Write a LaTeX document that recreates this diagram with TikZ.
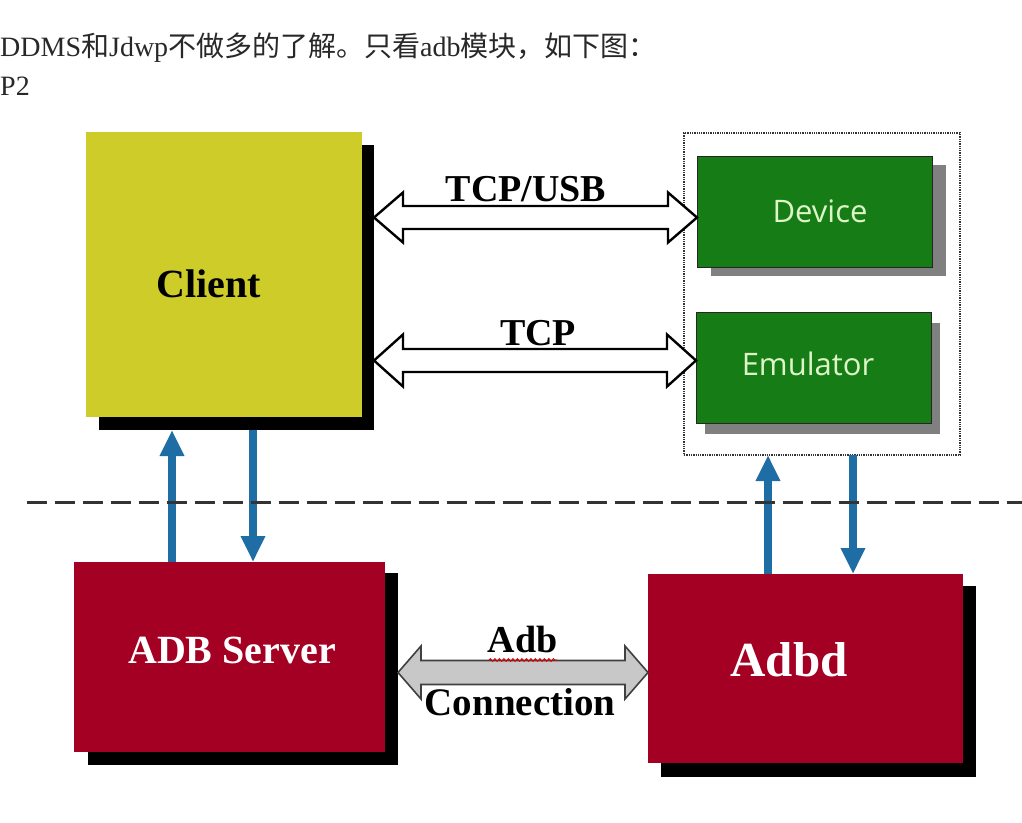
\documentclass[tikz,border=0pt]{standalone}
\usepackage{fontspec}
\setmainfont{Liberation Serif}
\newfontfamily\cjk{Noto Sans CJK SC}
\newfontfamily\osans{Open Sans}
\usetikzlibrary{calc,arrows.meta,decorations.pathmorphing}
\definecolor{cyel}{RGB}{205,204,40}
\definecolor{cgreen}{RGB}{22,125,22}
\definecolor{cred}{RGB}{163,0,36}
\definecolor{cblue}{RGB}{30,110,165}
\definecolor{cgtext}{RGB}{222,245,200}
\definecolor{cgshadow}{RGB}{128,128,128}
\definecolor{cconn}{RGB}{200,200,200}
\definecolor{chead}{RGB}{40,40,40}
\newcommand\fatarrow[6]{%
  \draw[#1] (#2) -- ++(#6,-#5) -- ++(0,{#5-#4}) -- ($(#3)+(-#6,-#4)$)
    -- ++(0,{-(#5-#4)}) -- (#3) -- ++(-#6,#5) -- ++(0,{-(#5-#4)})
    -- ($(#2)+(#6,#4)$) -- ++(0,{#5-#4}) -- cycle;}
\begin{document}
\begin{tikzpicture}[x=1pt,y=-1pt,
  box/.style={rectangle,inner sep=0pt,outer sep=0pt},
  shadowblk/.style={box,fill=black},
  shadowgray/.style={box,fill=cgshadow},
  greenbox/.style={box,fill=cgreen,draw=black!85,line width=1pt},
  redbox/.style={box,fill=cred},
  lbl/.style={inner sep=0pt,anchor=base,font=\bfseries\fontsize{#1}{#1}\selectfont},
  glbl/.style={inner sep=0pt,anchor=base,text=cgtext,font=\osans\fontsize{31}{31}\selectfont},
  hollow/.style={draw=black,fill=white,line width=2.4pt,line join=miter},
  greyarrow/.style={draw=black!75,fill=cconn,line width=1.6pt,line join=miter},
  bluearr/.style={draw=cblue,line width=8pt,-{Triangle[width=23pt,length=26pt]}},
  dashline/.style={draw=black!80,line width=3pt,dash pattern=on 20pt off 8pt},
  headtxt/.style={inner sep=0pt,anchor=base west,text=chead,font=\fontsize{28}{28}\selectfont}
]
\useasboundingbox (0,0) rectangle (1022,822);
\fill[white] (0,0) rectangle (1022,822);

% header text
\node[headtxt] (h1) at (0,56) {DDMS{\cjk 和}Jdwp{\cjk 不做多的了解。只看}adb{\cjk 模块，如下图：}};
\node[headtxt] (h2) at (0,95) {P2};

% client
\node[shadowblk,minimum width=275pt,minimum height=285pt] (clientsh) at (236.5,287.5) {};
\node[box,fill=cyel,minimum width=276pt,minimum height=285pt] (client) at (224,274.5) {};
\node[lbl=40] (clienttxt) at (209,297) {Client};

% device box group
\node[box,draw=black!80,line width=1.3pt,densely dotted,minimum width=276pt,minimum height=322pt] (grp) at (822,294) {};
\node[shadowgray,minimum width=235pt,minimum height=111pt] (devicesh) at (828.5,220.5) {};
\node[greenbox,minimum width=235pt,minimum height=111pt] (device) at (814.5,211.5) {};
\node[glbl] (devicetxt) at (820,222) {Device};
\node[shadowgray,minimum width=235pt,minimum height=111pt] (emush) at (822.5,378.5) {};
\node[greenbox,minimum width=235pt,minimum height=111pt] (emulator) at (813.5,367.5) {};
\node[glbl] (emutxt) at (808,375) {Emulator};

% ADB server
\node[shadowblk,minimum width=310pt,minimum height=192pt] (adbsh) at (243,669) {};
\node[redbox,minimum width=311pt,minimum height=190pt] (adbserver) at (229.5,657) {};
\node[lbl=40,text=white] (adbservertxt) at (232,663) {ADB Server};

% Adbd
\node[shadowblk,minimum width=315pt,minimum height=191pt] (adbdsh) at (818.5,681.5) {};
\node[redbox,minimum width=315pt,minimum height=189pt] (adbd) at (805.5,668.5) {};
\node[lbl=49,text=white] (adbdtxt) at (789,676) {Adbd};

% hollow double arrows
\coordinate (r1) at (0,217.5);
\coordinate (r2) at (0,360.5);
\coordinate (r3) at (0,672.5);
\coordinate (tuL) at (clientsh.east |- r1);
\coordinate (tuR) at (device.west |- r1);
\coordinate (tcL) at (clientsh.east |- r2);
\coordinate (tcR) at (emulator.west |- r2);
\coordinate (acL) at (adbsh.east |- r3);
\coordinate (acR) at (adbd.west |- r3);
\fatarrow{hollow}{tuL}{tuR}{11.5}{25}{29}
\fatarrow{hollow}{tcL}{tcR}{11.5}{26}{29}
\fatarrow{greyarrow}{acL}{acR}{12}{26.5}{23}
\node[lbl=38] (tcpusb) at (526,201) {TCP/USB};
\node[lbl=38] (tcp) at (538,345) {TCP};
\node[lbl=38] (adbl) at (522.5,652) {Adb};
\node[lbl=39] (connl) at (520,715) {Connection};
\coordinate (sq1) at (489,660);
\coordinate (sq2) at (557,660);
\draw[red!85!black,line width=1pt,decorate,decoration={snake,amplitude=1.3pt,segment length=4.5pt}] (sq1) -- (sq2);

% blue arrows
\coordinate (b1) at (172,0);
\coordinate (b2) at (253,0);
\coordinate (b3) at (768,0);
\coordinate (b4) at (853,0);
\draw[bluearr] (b1 |- adbserver.north) -- (b1 |- clientsh.south);
\draw[bluearr] (b2 |- clientsh.south) -- (b2 |- adbserver.north);
\draw[bluearr] (b3 |- adbd.north) -- (b3 |- grp.south);
\draw[bluearr] (b4 |- grp.south) -- (b4 |- adbd.north);

% dashed separator
\coordinate (dl) at (27,502);
\coordinate (dr) at (1022,502);
\draw[dashline] (dl) -- (dr);
\end{tikzpicture}
\end{document}
